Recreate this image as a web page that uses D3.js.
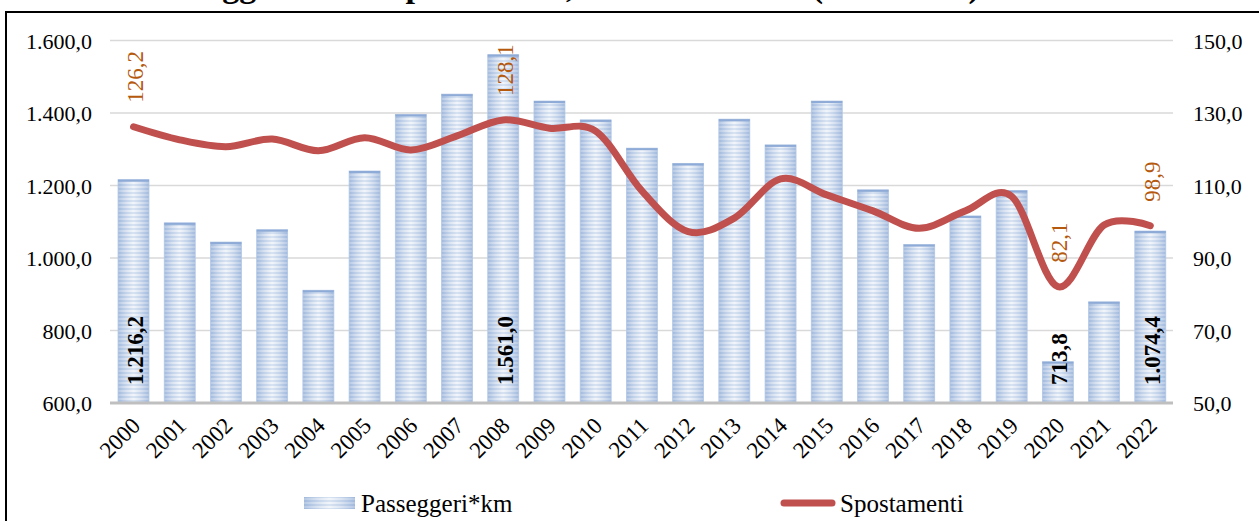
<!DOCTYPE html>
<meta charset="utf-8">
<style>
    body { margin: 0; background: #fff; }
    svg { display: block; font-family: "Liberation Serif", "DejaVu Serif", serif; }
    .grid line { stroke: #d9d9d9; stroke-width: 1.5px; }
    .tick-label { font-size: 22px; fill: #000; font-family: "Liberation Serif", "DejaVu Serif", serif; }
</style>
<svg width="1259" height="521"></svg>
<script src="https://d3js.org/d3.v7.min.js"></script>
<script>

    var anni = ["2000", "2001", "2002", "2003", "2004", "2005", "2006", "2007", "2008", "2009", "2010", "2011",
        "2012", "2013", "2014", "2015", "2016", "2017", "2018", "2019", "2020", "2021", "2022"];
    var passeggeriKm = [1216.2, 1097, 1044, 1078, 911, 1240, 1396, 1452, 1561.0, 1433, 1381, 1303,
        1261, 1383, 1312, 1433, 1188, 1037, 1116, 1186, 713.8, 879, 1074.4];
    var spostamenti = [126.2, 122.6, 120.7, 122.8, 119.6, 123.2, 119.8, 123.7, 128.1, 125.8, 125.0, 108.5,
        97.3, 101.0, 111.8, 107.4, 103.0, 98.2, 103.0, 107.0, 82.1, 99.1, 98.9];
    var anniEtichettati = ["2000", "2008", "2020", "2022"];
    var tickSinistra = [600, 800, 1000, 1200, 1400, 1600];
    var tickDestra = [50, 70, 90, 110, 130, 150];
    var titolo = "Passeggeri*km e spostamenti, anni 2000-2022 (mld e mln)";

    var svg = d3.select("svg");
    var it = d3.formatLocale({decimal: ",", thousands: ".", grouping: [3], currency: ["€", ""]});
    var fmt = it.format(",.1f");

    var x = d3.scaleBand().domain(anni).range([110.4, 1173.4]).paddingInner(0.33).paddingOuter(0.165);
    var yL = d3.scaleLinear().domain([600, 1600]).range([403, 40.5]);
    var yR = d3.scaleLinear().domain([50, 150]).range([403, 40.5]);

    // bordo e titolo (tagliati dall'immagine)
    svg.append("rect").attr("x", 6).attr("y", 12).attr("width", 1300).attr("height", 600)
        .attr("fill", "none").attr("stroke", "#000").attr("stroke-width", 2);
    svg.append("text").attr("x", 143).attr("y", -3)
        .style("font-size", "34px").style("font-weight", "bold")
        .text(titolo);

    var defs = svg.append("defs");
    var pat = defs.append("pattern").attr("id", "righe")
        .attr("patternUnits", "userSpaceOnUse").attr("width", 8).attr("height", 4);
    pat.append("rect").attr("width", 8).attr("height", 4).attr("fill", "#eaf0f8");
    pat.append("rect").attr("width", 8).attr("height", 2).attr("fill", "#c2d3ea");
    var grad = defs.append("linearGradient").attr("id", "ombra")
        .attr("x1", 0).attr("x2", 1).attr("y1", 0).attr("y2", 0);
    grad.append("stop").attr("offset", "0%").attr("stop-color", "#7f9fd0").attr("stop-opacity", 0.5);
    grad.append("stop").attr("offset", "50%").attr("stop-color", "#ffffff").attr("stop-opacity", 0.35);
    grad.append("stop").attr("offset", "100%").attr("stop-color", "#7f9fd0").attr("stop-opacity", 0.5);

    // griglia
    svg.append("g").attr("class", "grid")
        .selectAll("line").data(tickSinistra.slice(1)).enter().append("line")
        .attr("x1", 110).attr("x2", 1173)
        .attr("y1", function (d) { return yL(d); })
        .attr("y2", function (d) { return yL(d); });

    // assi
    var assex = svg.append("g").attr("transform", "translate(0," + yL(600) + ")")
        .call(d3.axisBottom(x).tickSize(0).tickPadding(0));
    assex.attr("font-family", null).attr("font-size", null);
    assex.select(".domain").remove();
    assex.selectAll("text")
        .attr("class", "tick-label")
        .style("font-size", "23px")
        .attr("text-anchor", "end")
        .attr("dy", 0)
        .attr("y", 0)
        .attr("transform", "translate(8,24) rotate(-45)");

    var assey = svg.append("g").attr("transform", "translate(92,0)")
        .call(d3.axisLeft(yL).tickValues(tickSinistra).tickFormat(fmt).tickSize(0).tickPadding(0));
    assey.attr("font-family", null).attr("font-size", null);
    assey.select(".domain").remove();
    assey.selectAll("text").attr("class", "tick-label").attr("text-anchor", "end").attr("dy", "0.35em");

    var assey2 = svg.append("g").attr("transform", "translate(1193,0)")
        .call(d3.axisRight(yR).tickValues(tickDestra).tickFormat(fmt).tickSize(0).tickPadding(0));
    assey2.attr("font-family", null).attr("font-size", null);
    assey2.select(".domain").remove();
    assey2.selectAll("text").attr("class", "tick-label").attr("text-anchor", "start").attr("dy", "0.35em");

    // barre
    var barre = svg.append("g").selectAll("g").data(anni).enter().append("g");
    barre.append("rect")
        .attr("x", function (d) { return x(d); })
        .attr("y", function (d, i) { return yL(passeggeriKm[i]); })
        .attr("width", x.bandwidth())
        .attr("height", function (d, i) { return yL(600) - yL(passeggeriKm[i]); })
        .attr("fill", "url(#righe)");
    barre.append("rect")
        .attr("x", function (d) { return x(d); })
        .attr("y", function (d, i) { return yL(passeggeriKm[i]); })
        .attr("width", x.bandwidth())
        .attr("height", function (d, i) { return yL(600) - yL(passeggeriKm[i]); })
        .attr("fill", "url(#ombra)")
        .attr("stroke", "#b3c8e6").attr("stroke-width", 0.8);
    barre.append("line")
        .attr("x1", function (d) { return x(d); })
        .attr("x2", function (d) { return x(d) + x.bandwidth(); })
        .attr("y1", function (d, i) { return yL(passeggeriKm[i]) + 1; })
        .attr("y2", function (d, i) { return yL(passeggeriKm[i]) + 1; })
        .attr("stroke", "#8eaad6").attr("stroke-width", 2);

    // linea di base
    svg.append("line").attr("x1", 110).attr("x2", 1173)
        .attr("y1", yL(600)).attr("y2", yL(600))
        .attr("stroke", "#bfbfbf").attr("stroke-width", 3);

    // linea spostamenti
    var linea = d3.line()
        .x(function (d, i) { return x(anni[i]) + x.bandwidth() / 2; })
        .y(function (d) { return yR(d); })
        .curve(d3.curveCardinal);
    svg.append("path").datum(spostamenti)
        .attr("d", linea)
        .attr("fill", "none")
        .attr("stroke", "#c0504d")
        .attr("stroke-width", 7)
        .attr("stroke-linecap", "round");

    // etichette
    var cx = function (a) { return x(a) + x.bandwidth() / 2; };
    anniEtichettati.forEach(function (a) {
        var i = anni.indexOf(a);
        svg.append("text")
            .attr("transform", "translate(" + (cx(a) + 1.5) + "," + (yR(spostamenti[i]) - 24) + ") rotate(-90)")
            .attr("dy", "0.35em")
            .style("font-size", "23px").style("fill", "#b5590f")
            .text(fmt(spostamenti[i]));
        svg.append("text")
            .attr("transform", "translate(" + (cx(a) + 1.5) + "," + (yL(600) - 18) + ") rotate(-90)")
            .attr("dy", "0.35em")
            .style("font-size", "23px").style("font-weight", "bold").style("fill", "#000")
            .text(fmt(passeggeriKm[i]));
    });

    // legenda
    var leg = svg.append("g");
    leg.append("rect").attr("x", 304).attr("y", 497).attr("width", 51).attr("height", 12).attr("fill", "url(#righe)");
    leg.append("rect").attr("x", 304).attr("y", 497).attr("width", 51).attr("height", 12).attr("fill", "url(#ombra)");
    leg.append("text").attr("x", 361).attr("y", 512).style("font-size", "25px").text("Passeggeri*km");
    leg.append("line").attr("x1", 784).attr("x2", 832).attr("y1", 503).attr("y2", 503)
        .attr("stroke", "#c0504d").attr("stroke-width", 7).attr("stroke-linecap", "round");
    leg.append("text").attr("x", 840).attr("y", 512).style("font-size", "25px").text("Spostamenti");

</script>
